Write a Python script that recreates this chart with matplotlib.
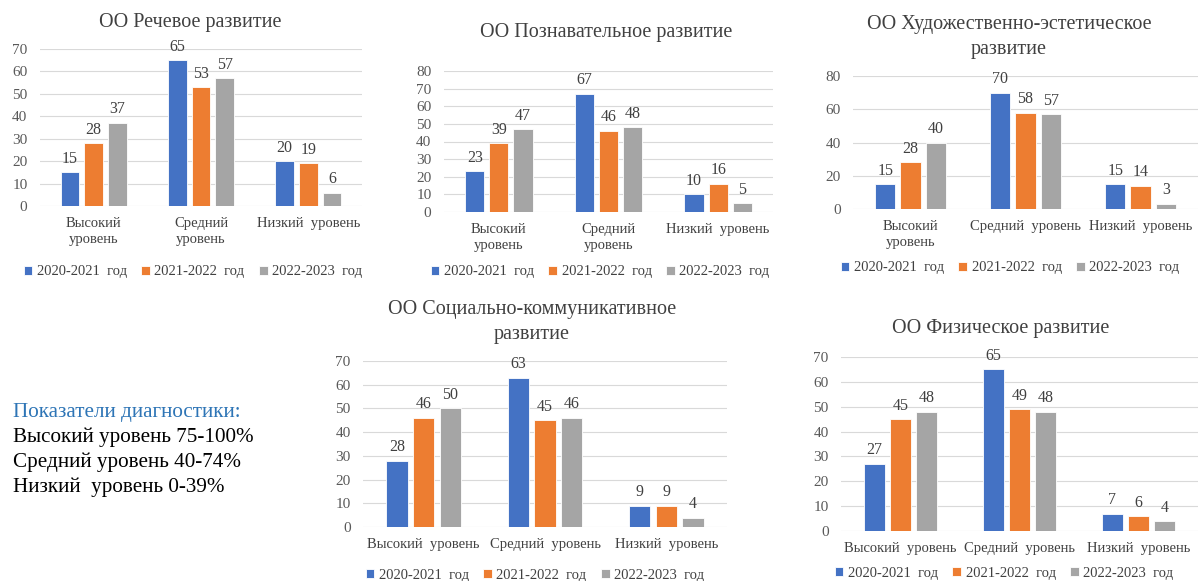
import matplotlib.pyplot as plt
import numpy as np

plt.rcParams['font.family'] = ['Liberation Serif', 'DejaVu Serif']

W, H = 1200, 581

years = ['2020-2021  год', '2021-2022  год', '2022-2023  год']
colors = ['#4472C4', '#ED7D31', '#A5A5A5']

cats_wrap = ['Высокий\nуровень', 'Средний\nуровень', 'Низкий  уровень']
cats_mid = ['Высокий\nуровень', 'Средний  уровень', 'Низкий  уровень']
cats_line = ['Высокий  уровень', 'Средний  уровень', 'Низкий  уровень']

speech = [[15, 65, 20], [28, 53, 19], [37, 57, 6]]
cognitive = [[23, 67, 10], [39, 46, 16], [47, 48, 5]]
artistic = [[15, 70, 15], [28, 58, 14], [40, 57, 3]]
social = [[28, 63, 9], [46, 45, 9], [50, 46, 4]]
physical = [[27, 65, 7], [45, 49, 6], [48, 48, 4]]

fig = plt.figure(figsize=(W / 100, H / 100), dpi=100)


def px_axes(x0, x1, y_top, y_bot):
    return fig.add_axes([x0 / W, 1 - y_bot / H, (x1 - x0) / W, (y_bot - y_top) / H])


def draw_chart(values, cats, title, box, ymax, ystep, title_xy, legend_xy):
    ax = px_axes(*box)
    x = np.arange(len(cats))
    for k, (vals, col, lab) in enumerate(zip(values, colors, years)):
        bars = ax.bar(x + (k - 1) * 0.22, vals, width=0.175, color=col,
                      edgecolor='white', linewidth=0.6, label=lab, zorder=3)
        ax.bar_label(bars, padding=4, fontsize=11.5, color='#404040')
    ax.set_xlim(-0.5, len(cats) - 0.5)
    ax.set_ylim(0, ymax)
    ax.set_yticks(np.arange(0, ymax + 1, ystep))
    ax.set_xticks(x)
    ax.set_xticklabels(cats, fontsize=10.5, color='#404040', linespacing=1.25)
    ax.tick_params(axis='y', length=0, pad=9, labelsize=11, labelcolor='#595959')
    ax.tick_params(axis='x', length=0, pad=8)
    ax.yaxis.grid(True, color='#D9D9D9', linewidth=0.8)
    ax.set_axisbelow(True)
    for s in ax.spines.values():
        s.set_visible(False)
    fig.text(title_xy[0] / W, 1 - title_xy[1] / H, title, ha='center', va='center',
             fontsize=14.5, color='#404040', linespacing=1.4)
    ax.legend(loc='center', bbox_to_anchor=(legend_xy[0] / W, 1 - legend_xy[1] / H),
              bbox_transform=fig.transFigure, ncol=3, frameon=False, fontsize=10.5,
              handlelength=0.6, handleheight=0.6, handletextpad=0.3, columnspacing=1.0,
              labelcolor='#404040')
    return ax


draw_chart(speech, cats_wrap, 'ОО Речевое развитие', (40, 362, 49, 206), 70, 10,
           (190, 22), (193, 272))
draw_chart(cognitive, cats_wrap, 'ОО Познавательное развитие', (444, 773, 71, 212), 80, 10,
           (606, 33), (600, 272))
draw_chart(artistic, cats_mid, 'ОО Художественно-эстетическое\nразвитие', (853, 1198, 76, 209),
           80, 20, (1009, 37), (1010, 268))
draw_chart(social, cats_line, 'ОО Социально-коммуникативное\nразвитие', (363, 727, 361, 527),
           70, 10, (532, 322), (535, 575))
draw_chart(physical, cats_line, 'ОО Физическое развитие', (841, 1198, 357, 531), 70, 10,
           (1001, 328), (1004, 573))

fig.text(13 / W, 1 - 412 / H, 'Показатели диагностики:', ha='left', va='center',
         fontsize=15.2, color='#2E75B6')
notes = ['Высокий уровень 75-100%', 'Средний уровень 40-74%', 'Низкий  уровень 0-39%']
for i, line in enumerate(notes):
    fig.text(13 / W, 1 - (437 + 25 * i) / H, line, ha='left', va='center',
             fontsize=15.2, color='black')

fig.savefig('out.png', dpi=100, facecolor='white')
